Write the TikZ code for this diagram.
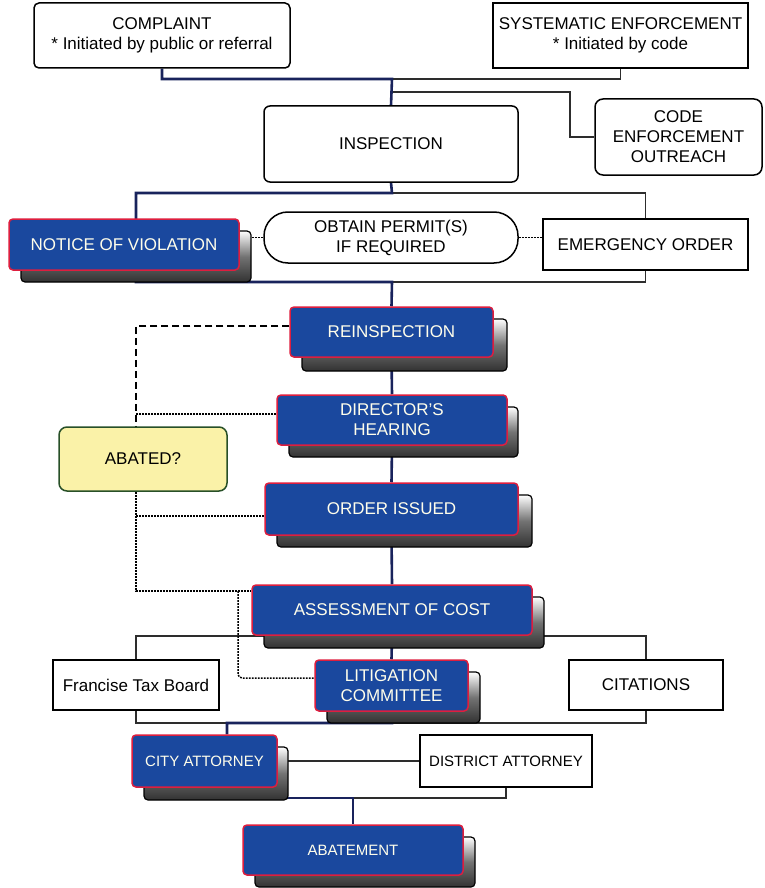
\documentclass[tikz,border=0pt]{standalone}
\usepackage{fontspec}
\setmainfont{Liberation Sans}
\usetikzlibrary{backgrounds,calc}
\definecolor{bluefill}{RGB}{26,72,158}
\definecolor{redline}{RGB}{222,30,62}
\definecolor{navyline}{RGB}{25,35,92}
\definecolor{thinline}{RGB}{45,45,45}
\definecolor{yellowfill}{RGB}{250,242,168}
\definecolor{greenline}{RGB}{40,80,40}
\definecolor{shadowdark}{RGB}{50,50,50}
\tikzset{
  wbox/.style={draw=black, line width=1.5pt, fill=white, align=center, inner sep=0pt, text=black},
  rbox/.style={wbox, rounded corners=6pt},
  bluenode/.style={draw=redline, line width=1.5pt, fill=bluefill, rounded corners=4pt, align=center, inner sep=0pt, text=white!92!yellow},
  shadowbox/.style={draw=black, line width=1.2pt, rounded corners=4pt, top color=white, bottom color=shadowdark, middle color=black!55},
  navy/.style={draw=navyline, line width=2.6pt},
  thinl/.style={draw=thinline, line width=1.2pt},
  dotl/.style={draw=black, line width=1.5pt, dash pattern=on 1.8pt off 1.2pt},
  dashl/.style={draw=black, line width=2.8pt, dash pattern=on 7pt off 4pt},
  smalltext/.style={font=\fontsize{15}{18}\selectfont},
}
% name, x1, y1, x2, y2, shadow x2, shadow y2, text
\newcommand\bluebox[8]{%
  \path[shadowbox] ({#2+12},{#3+12}) rectangle (#6,#7);
  \node[bluenode, minimum width={#4-#2}, minimum height={#5-#3}] (#1) at ({(#2+#4)/2},{(#3+#5)/2}) {#8};}
% style, name, x1, y1, x2, y2, text
\newcommand\plainbox[7]{%
  \node[#1, minimum width={#5-#3}, minimum height={#6-#4}] (#2) at ({(#3+#5)/2},{(#4+#6)/2}) {#7};}
\begin{document}
\begin{tikzpicture}[x=1pt, y=-1pt, font=\fontsize{17}{20}\selectfont]
\useasboundingbox (0,0) rectangle (764,888);

% white boxes
\plainbox{wbox, rounded corners=5pt}{complaint}{34}{3}{290}{68}{COMPLAINT\\* Initiated by public or referral}
\plainbox{wbox}{systematic}{493}{3}{748}{68}{SYSTEMATIC ENFORCEMENT\\* Initiated by code}
\plainbox{rbox}{inspection}{264}{106}{518}{182}{INSPECTION}
\plainbox{wbox, rounded corners=8pt}{outreach}{595}{99}{762}{175}{CODE\\ENFORCEMENT\\OUTREACH}
\plainbox{wbox, rounded corners=24pt}{obtain}{264}{212}{518}{263}{OBTAIN PERMIT(S)\\IF REQUIRED}
\plainbox{wbox}{emergency}{543}{219}{748}{270}{EMERGENCY ORDER}
\plainbox{wbox, fill=yellowfill, draw=greenline, rounded corners=8pt}{abated}{59}{427}{227}{491}{ABATED?}
\plainbox{wbox}{ftb}{53}{660}{219}{710}{Francise Tax Board}
\plainbox{wbox}{citations}{569}{660}{723}{710}{CITATIONS}
\plainbox{wbox, smalltext}{district}{420}{735}{592}{787}{DISTRICT ATTORNEY}

% blue boxes
\bluebox{notice}{9}{219}{239}{270}{251}{282}{NOTICE OF VIOLATION}
\bluebox{reinsp}{290}{307}{493}{357}{507}{371}{REINSPECTION}
\bluebox{director}{277}{395}{507}{445}{518}{457}{DIRECTOR'S\\HEARING}
\bluebox{order}{265}{483}{518}{535}{532}{547}{ORDER ISSUED}
\bluebox{assess}{252}{585}{532}{635}{544}{648}{ASSESSMENT OF COST}
\bluebox{litig}{315}{660}{468}{711}{480}{723}{LITIGATION\\COMMITTEE}
\bluebox{city}{132}{735}{277}{787}{288}{800}{\fontsize{15}{18}\selectfont CITY ATTORNEY}
\bluebox{abatement}{243}{825}{463}{875}{475}{887}{\fontsize{15}{18}\selectfont ABATEMENT}

% junctions
\coordinate (j1) at (392,79);
\coordinate (j2) at (392,92);
\coordinate (o1) at (570,92);
\coordinate (j3) at (392,193);
\coordinate (j3l) at (136,193);
\coordinate (j4) at (392,282);
\coordinate (j4l) at (136,282);
\coordinate (k1) at (392,723);
\coordinate (k2) at (227,723);
\coordinate (m1) at (210,798);
\coordinate (m2) at (353,798);
\coordinate (f1) at (136,636);
\coordinate (f2) at (646,636);
\coordinate (g1) at (136,723);
\coordinate (g2) at (646,723);
\coordinate (d1) at (136,326);
\coordinate (d2) at (136,414);
\coordinate (d3) at (136,591);
\coordinate (d4) at (136,516);
\coordinate (d5) at (238,591);
\coordinate (d6) at (238,678);

\begin{scope}[on background layer]
\fill[white] (0,0) rectangle (764,888);
% thin connectors
\draw[thinl] (systematic.south) |- (j1);
\draw[thinl] (j2) -- (o1) |- (outreach.west);
\draw[thinl] (j3) -| (emergency.north);
\draw[thinl] (emergency.south) |- (j4);
\draw[thinl] (ftb.north) |- (f1) -- (f2) -- (citations.north);
\draw[thinl] (ftb.south) |- (g1) -- (g2) -- (citations.south);
\draw[thinl] (city.east) -- (district.west);
\draw[thinl] (district.south) |- (m1);
% navy connectors
\draw[navy] (complaint.south) |- (j1) -- (inspection.north);
\draw[navy] (inspection.south) -- (j3) -- (j3l) -- (j4l) -- (j4) -- (reinsp.north);
\draw[navy] (reinsp.south) -- (director.north);
\draw[navy] (director.south) -- (order.north);
\draw[navy] (order.south) -- (assess.north);
\draw[navy] (assess.south) -- (litig.north);
\draw[navy] (litig.south) -- (k1) -- (k2) -- (k2 |- city.north);
\draw[navy] (m1 |- city.south) -- (m1) -- (m2) -- (abatement.north);
% dotted / dashed connectors
\draw[dotl] (notice.east |- obtain.west) -- (obtain.west);
\draw[dotl] (obtain.east) -- (emergency.west |- obtain.east);
\draw[dashl] ($(reinsp.west)+(0,-6)$) -- (d1) -- (abated.north -| d1);
\draw[dotl] ($(director.west)+(0,-6)$) -- (d2);
\draw[dotl] (abated.south -| d3) -- (d3) -- (assess.west |- d3);
\draw[dotl] (d4) -- (order.west |- d4);
\draw[dotl, rounded corners=4pt] (d5) -- (d6) -- (litig.west |- d6);
\end{scope}
\end{tikzpicture}
\end{document}
